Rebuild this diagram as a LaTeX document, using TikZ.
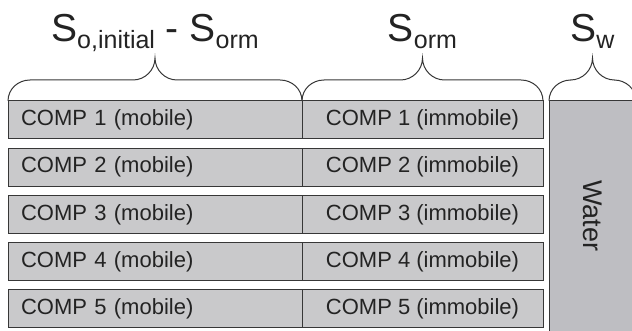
\documentclass[tikz,border=0pt]{standalone}
\usepackage{fontspec}
\setmainfont{Liberation Sans}
\usetikzlibrary{positioning,calc}

\definecolor{compfill}{RGB}{201,201,203}
\definecolor{waterfill}{RGB}{190,190,194}
\definecolor{edgegray}{RGB}{55,55,55}
\definecolor{textgray}{RGB}{35,35,35}

\tikzset{
  comp/.style={draw=edgegray, fill=compfill, line width=1pt, minimum height=38pt,
    outer sep=0pt, text=textgray, font=\fontsize{22}{26}\selectfont},
  mobile/.style={comp, text width=268pt, align=left, inner xsep=13pt},
  immobile/.style={comp, minimum width=241pt, inner xsep=0pt},
  water/.style={comp, fill=waterfill, minimum width=87pt, minimum height=240pt, inner sep=0pt},
  curly/.style={draw=edgegray, line width=1pt},
  head/.style={text=textgray, inner sep=0pt, font=\fontsize{39}{44}\selectfont}
}
\newcommand{\hsub}[1]{\raisebox{-7pt}{\fontsize{25}{29}\selectfont #1}}

\begin{document}
\begin{tikzpicture}[x=1pt,y=-1pt]
  \useasboundingbox (0,0) rectangle (632,331);

  % rows of components
  \foreach \i in {1,...,5} {
    \node[mobile, anchor=north west] (mob\i) at (8,{101+47.2*(\i-1)}) {COMP \i\ (mobile)};
    \node[immobile, right=0pt of mob\i] (imm\i) {COMP \i\ (immobile)};
  }
  \node[water, right=6pt of imm1.north east, anchor=north west] (water) {};
  \node[rotate=-90, inner sep=0pt, text=textgray, font=\fontsize{27}{30}\selectfont]
    (wlabel) at ([yshift=5pt]water.center) {Water};

  % braces
  \foreach \n in {mob1,imm1,water} {
    \coordinate (mid-\n) at ($(\n.north west)!0.5!(\n.north east)$);
    \draw[curly] (\n.north west) .. controls +(0,-12) and +(-12,0) .. ($(\n.north west)+(22,-21)$)
      -- ($(mid-\n)+(-22,-21)$) .. controls +(12,0) and +(0,12) .. ($(mid-\n)+(0,-43)$) coordinate (tip-\n)
      .. controls +(0,12) and +(-12,0) .. ($(mid-\n)+(22,-21)$)
      -- ($(\n.north east)+(-22,-21)$) .. controls +(12,0) and +(0,-12) .. (\n.north east);
  }

  \node[head, anchor=base] (soi) at ([yshift=16pt]tip-mob1) {S\hsub{o,initial} - S\hsub{orm}};
  \node[head, anchor=base] (sorm) at ([yshift=16pt]tip-imm1) {S\hsub{orm}};
  \node[head, anchor=base] (sw) at ([yshift=16pt]tip-water) {S\hsub{w}};
\end{tikzpicture}
\end{document}
